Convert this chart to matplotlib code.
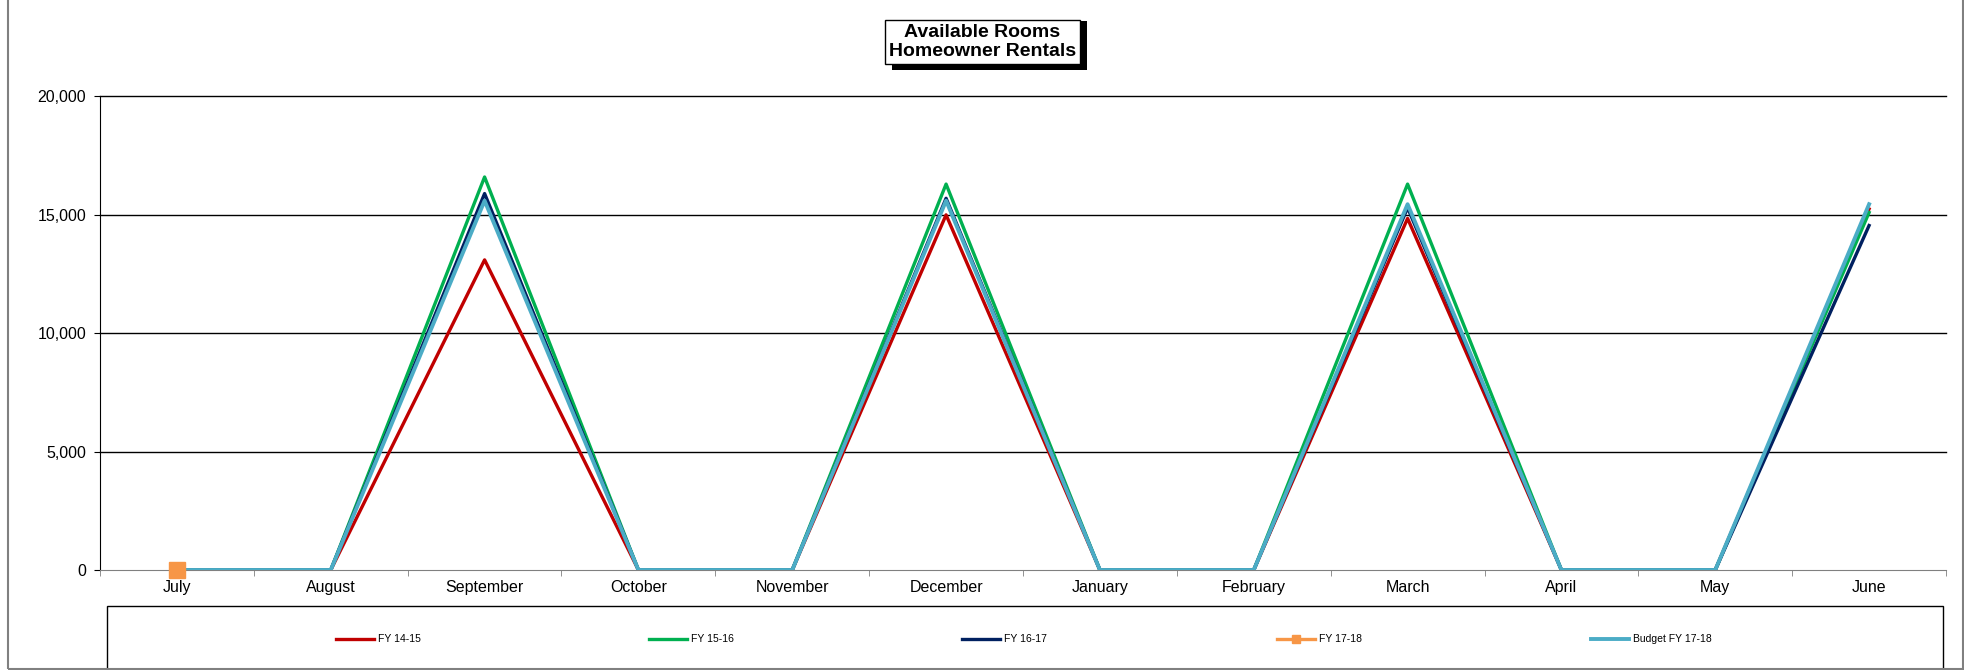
import matplotlib.pyplot as plt
from matplotlib.patches import Rectangle
from matplotlib.ticker import FuncFormatter

plt.rcParams['font.family'] = ['Liberation Sans', 'DejaVu Sans']

months = ["July", "August", "September", "October", "November", "December",
          "January", "February", "March", "April", "May", "June"]

fy1415 = [0, 0, 13100, 0, 0, 15000, 0, 0, 14850, 0, 0, 15250]
fy1516 = [0, 0, 16600, 0, 0, 16300, 0, 0, 16300, 0, 0, 15100]
fy1617 = [0, 0, 15900, 0, 0, 15700, 0, 0, 15300, 0, 0, 14550]
fy1718 = [0]
budget1718 = [0, 0, 15600, 0, 0, 15600, 0, 0, 15450, 0, 0, 15450]

fig = plt.figure(figsize=(19.65, 6.7), dpi=100)
ax = fig.add_axes([100 / 1965, 1 - 570 / 670, 1846 / 1965, 473.5 / 670])

x = list(range(len(months)))
l1, = ax.plot(x, fy1415, c="#C00000", lw=2.4, zorder=3, label="FY 14-15")
l2, = ax.plot(x, fy1516, c="#00B050", lw=2.4, zorder=4, label="FY 15-16")
l3, = ax.plot(x, fy1617, c="#002060", lw=2.4, zorder=5, label="FY 16-17")
l5, = ax.plot(x, budget1718, c="#4BACC6", lw=2.8, zorder=6, label="Budget FY 17-18")
l4, = ax.plot(x[:len(fy1718)], fy1718, c="#F79646", lw=2.4, marker="s",
              markersize=11, zorder=7, clip_on=False, label="FY 17-18")

ax.set_xlim(-0.5, 11.5)
ax.set_ylim(0, 20000)
ax.set_yticks([0, 5000, 10000, 15000, 20000])
ax.yaxis.set_major_formatter(FuncFormatter(lambda v, p: f"{int(v):,}"))
ax.set_xticks(x)
ax.set_xticklabels(months)
ax.set_xticks([i - 0.5 for i in range(13)], minor=True)
ax.tick_params(axis="x", which="major", length=0, labelsize=11.5, pad=7)
ax.tick_params(axis="x", which="minor", length=4, color="#808080", direction="out")
ax.tick_params(axis="y", length=4, labelsize=11.5, pad=6, direction="out")
for v in [5000, 10000, 15000, 20000]:
    ax.axhline(v, color="black", lw=1, zorder=1, clip_on=False)
ax.spines["top"].set_visible(False)
ax.spines["right"].set_visible(False)
ax.spines["bottom"].set_color("#808080")
ax.spines["left"].set_color("black")

# title box with shadow
fig.patches.append(Rectangle((892 / 1965, 1 - 70 / 670), 195 / 1965, 49 / 670,
                             transform=fig.transFigure, facecolor="black",
                             edgecolor="none", zorder=1))
fig.text(0.5, 1 - 42 / 670, "Available Rooms\nHomeowner Rentals", ha="center",
         va="center", fontsize=14, fontweight="bold", linespacing=1.1,
         bbox=dict(boxstyle="square,pad=0.22", facecolor="white",
                   edgecolor="black", lw=1), zorder=2)

# legend box
fig.patches.append(Rectangle((107 / 1965, -0.05), 1836 / 1965, 0.05 + 64 / 670,
                             transform=fig.transFigure, facecolor="white",
                             edgecolor="black", lw=1))
handles = [l1, l2, l3, l4, l5]
starts = [336, 649, 962, 1277, 1591]
for h, s in zip(handles, starts):
    yy = 1 - 639 / 670
    fig.add_artist(plt.Line2D([s / 1965, (s + 38) / 1965], [yy, yy],
                              transform=fig.transFigure, color=h.get_color(),
                              lw=h.get_linewidth()))
    if h.get_marker() == "s":
        fig.add_artist(plt.Line2D([(s + 19) / 1965], [yy], transform=fig.transFigure,
                                  color=h.get_color(), marker="s", markersize=6))
    fig.text((s + 42) / 1965, yy, h.get_label(), fontsize=7.5, va="center", ha="left")

# outer frame
fig.patches.append(Rectangle((8 / 1965, 1 - 669 / 670), 1955 / 1965, 669 / 670 + 0.01,
                             transform=fig.transFigure, facecolor="none",
                             edgecolor="#808080", lw=1.5))

fig.savefig("out.png", dpi=100)
